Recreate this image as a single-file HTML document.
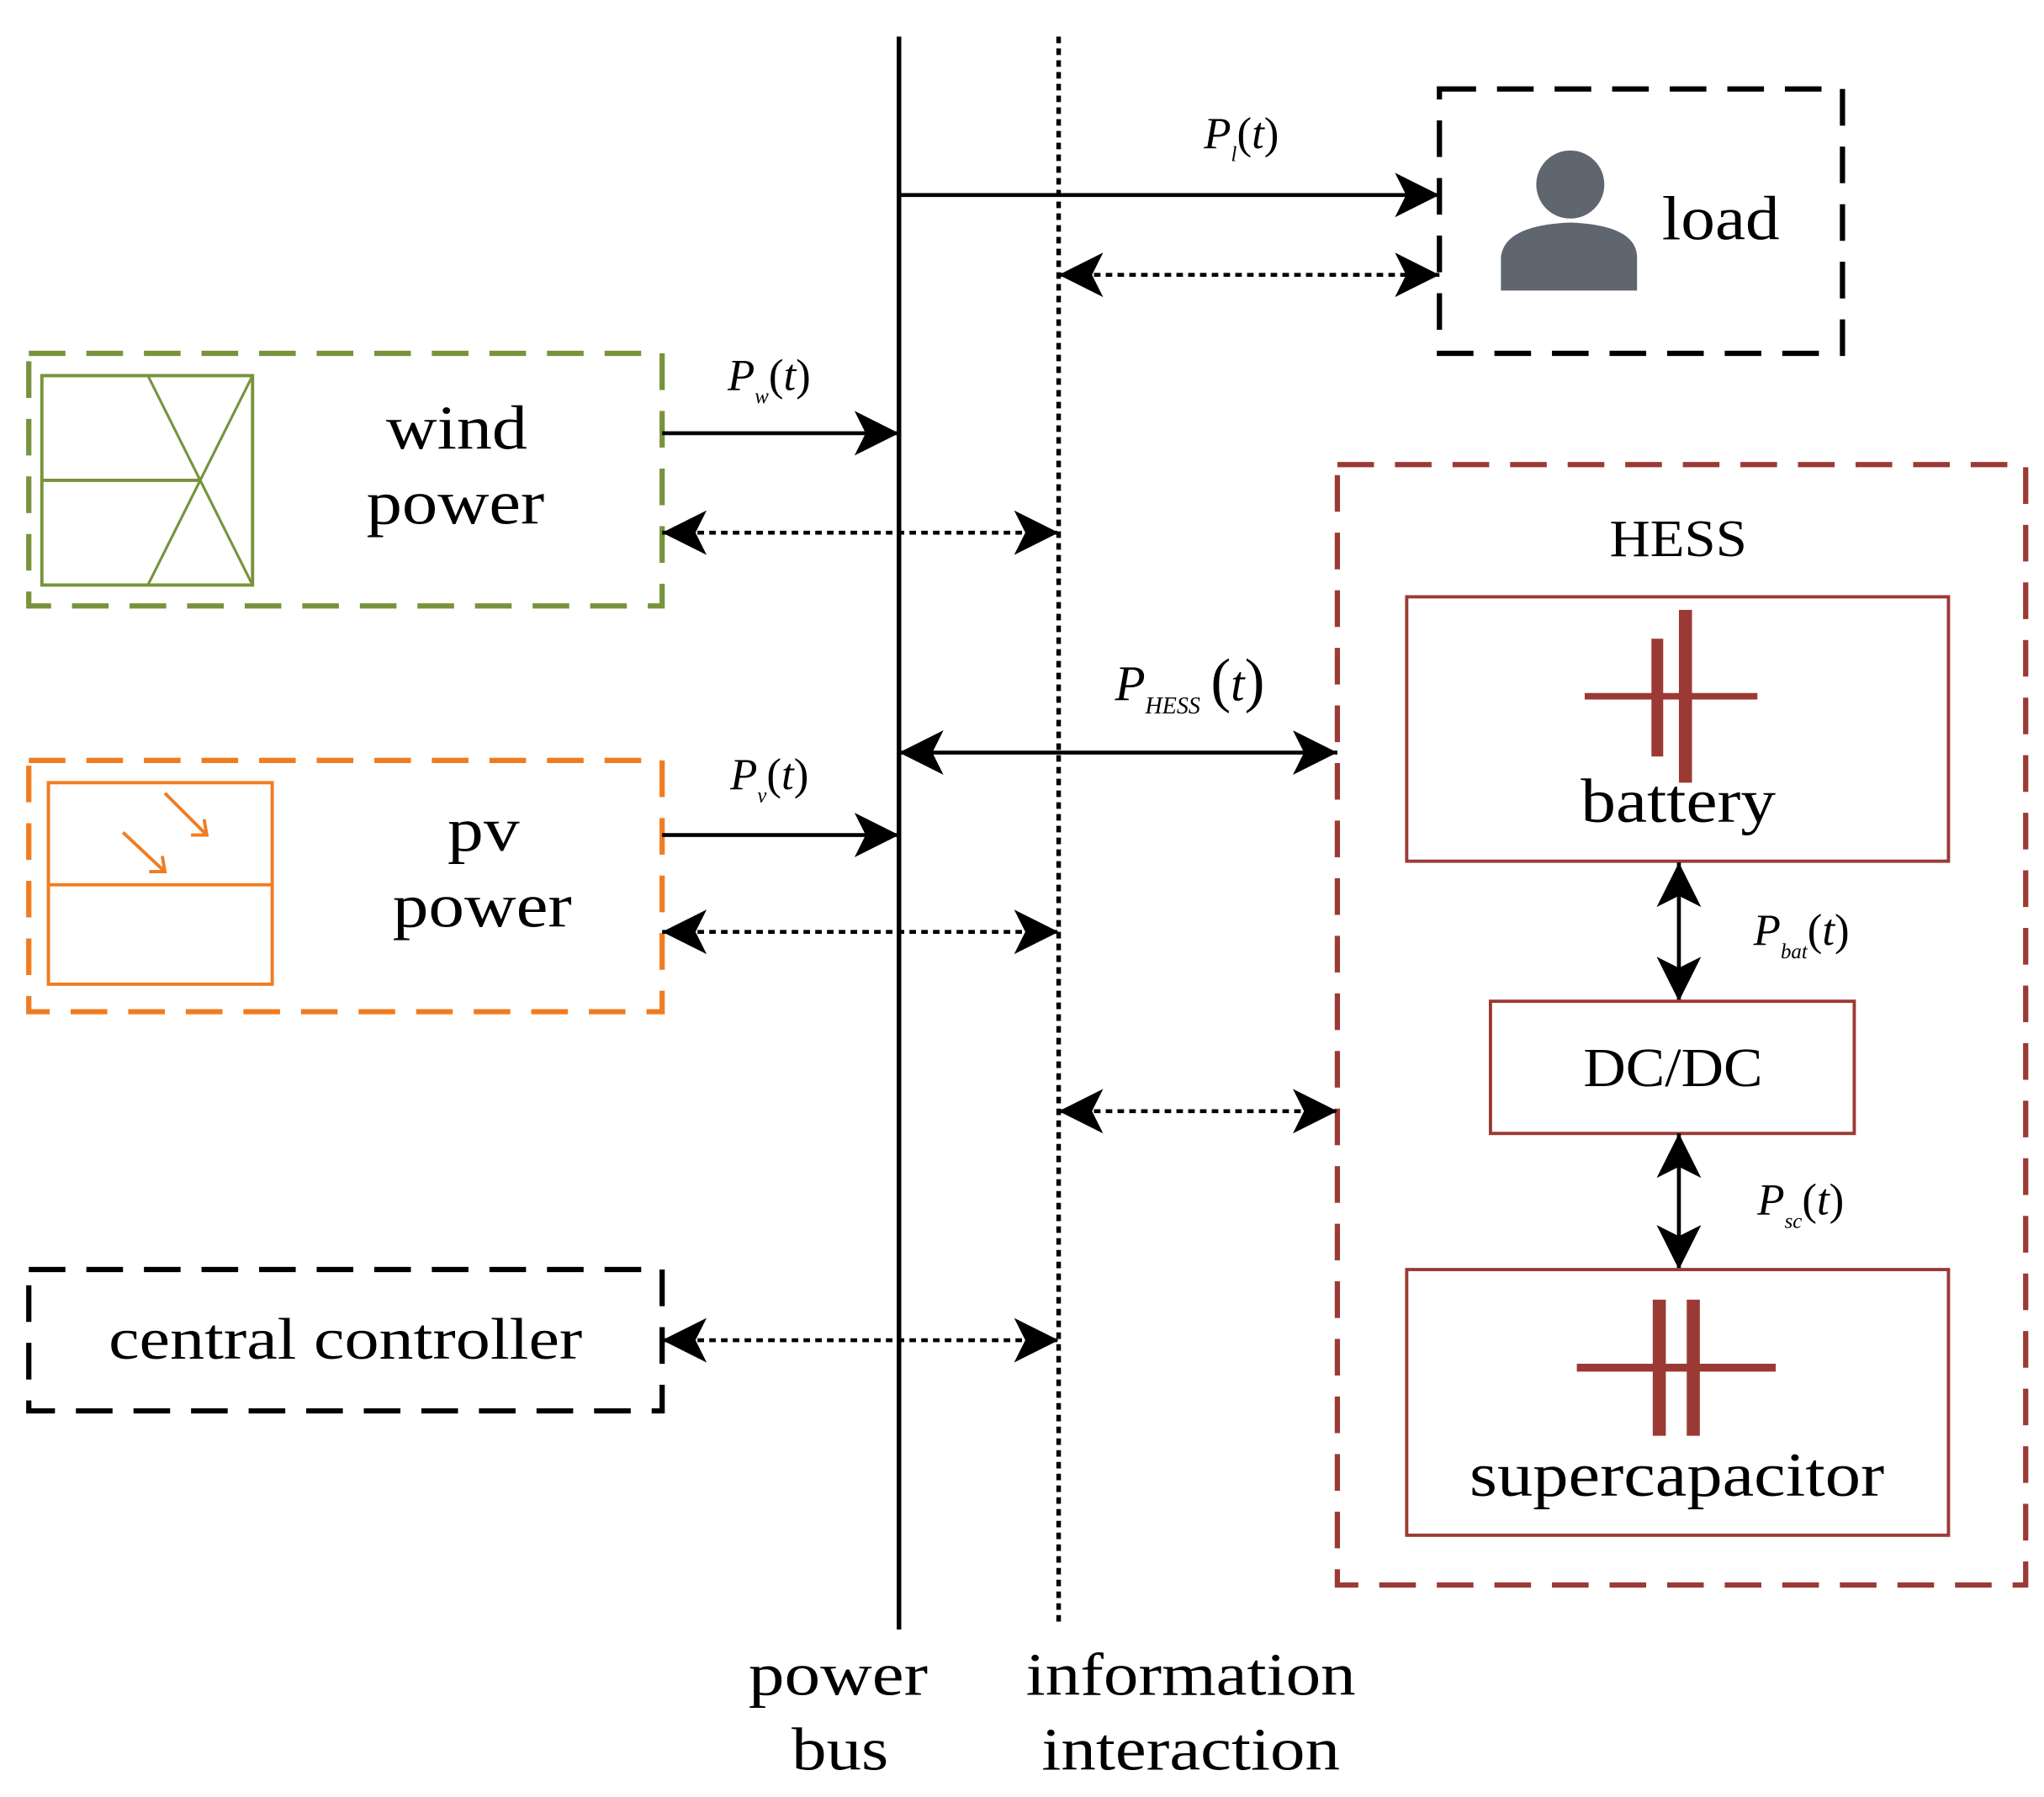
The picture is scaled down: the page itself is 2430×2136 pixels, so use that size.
<!DOCTYPE html>
<html><head><meta charset="utf-8"><style>
html,body{margin:0;padding:0;background:#fff;}
svg{display:block;}
text{font-family:"Liberation Serif",serif;}
</style></head><body>
<svg width="2430" height="2136" viewBox="0 0 1562 1373" preserveAspectRatio="none" xmlns="http://www.w3.org/2000/svg">
<defs>
<marker id="ah2" viewBox="0 0 10 10" refX="10" refY="5" markerWidth="34" markerHeight="34" markerUnits="userSpaceOnUse" orient="auto-start-reverse">
<path d="M0,0 L10,5 L0,10 L2.5,5 Z" fill="#000"/>
</marker>
</defs>
<line x1="687" y1="28" x2="687" y2="1245" stroke="#000" stroke-width="3.5"/>
<line x1="809" y1="28" x2="809" y2="1243" stroke="#000" stroke-width="3.5" stroke-dasharray="5 4"/>

<rect x="1100" y="68" width="308" height="202" fill="none" stroke="#000" stroke-width="4" stroke-dasharray="28 16"/>
<circle cx="1200" cy="141" r="26" fill="#5f6670"/>
<path d="M1147,222 L1147,196 Q1150,172 1200,170 Q1250,172 1251,196 L1251,222 Z" fill="#5f6670"/>
<text x="1270" y="183" font-size="48" textLength="90" lengthAdjust="spacingAndGlyphs">load</text>
<line x1="687" y1="149" x2="1100" y2="149" stroke="#000" stroke-width="3" marker-end="url(#ah2)"/>
<text x="920" y="113" font-size="34" font-style="italic">P<tspan font-size="16" dy="10">l</tspan><tspan font-style="normal" dy="-10">(</tspan>t<tspan font-style="normal">)</tspan></text>
<line x1="809" y1="210" x2="1100" y2="210" stroke="#000" stroke-width="3" stroke-dasharray="5 4" marker-start="url(#ah2)" marker-end="url(#ah2)"/>

<rect x="22" y="270" width="484" height="193" fill="none" stroke="#77933c" stroke-width="4" stroke-dasharray="28 16"/>
<rect x="32" y="287" width="161" height="160" fill="none" stroke="#77933c" stroke-width="2.5"/>
<line x1="32" y1="367" x2="153" y2="367" stroke="#77933c" stroke-width="2.5"/>
<line x1="113" y1="287" x2="193" y2="447" stroke="#77933c" stroke-width="2"/>
<line x1="193" y1="287" x2="113" y2="447" stroke="#77933c" stroke-width="2"/>
<text x="295" y="343" font-size="48" textLength="108" lengthAdjust="spacingAndGlyphs">wind</text>
<text x="280" y="400" font-size="48" textLength="136" lengthAdjust="spacingAndGlyphs">power</text>
<text x="556" y="298" font-size="34" font-style="italic">P<tspan font-size="16" dy="10">w</tspan><tspan font-style="normal" dy="-10">(</tspan>t<tspan font-style="normal">)</tspan></text>
<line x1="506" y1="331" x2="687" y2="331" stroke="#000" stroke-width="3" marker-end="url(#ah2)"/>
<line x1="506" y1="407" x2="809" y2="407" stroke="#000" stroke-width="3" stroke-dasharray="5 4" marker-start="url(#ah2)" marker-end="url(#ah2)"/>

<rect x="22" y="581" width="484" height="192" fill="none" stroke="#f07c21" stroke-width="4" stroke-dasharray="28 16"/>
<rect x="37" y="598" width="171" height="154" fill="none" stroke="#f07c21" stroke-width="2.5"/>
<line x1="37" y1="676" x2="208" y2="676" stroke="#f07c21" stroke-width="2.5"/>
<g stroke="#f07c21" stroke-width="2.5" fill="none">
<line x1="126" y1="606" x2="158" y2="638"/><polyline points="146,638 158,638 156,626"/>
<line x1="94" y1="636" x2="126" y2="666"/><polyline points="114,666 126,666 124,654"/>
</g>
<text x="342" y="650" font-size="48" textLength="55" lengthAdjust="spacingAndGlyphs">pv</text>
<text x="300" y="708" font-size="48" textLength="137" lengthAdjust="spacingAndGlyphs">power</text>
<text x="558" y="603" font-size="34" font-style="italic">P<tspan font-size="16" dy="10">v</tspan><tspan font-style="normal" dy="-10">(</tspan>t<tspan font-style="normal">)</tspan></text>
<line x1="506" y1="638" x2="687" y2="638" stroke="#000" stroke-width="3" marker-end="url(#ah2)"/>
<line x1="506" y1="712" x2="809" y2="712" stroke="#000" stroke-width="3" stroke-dasharray="5 4" marker-start="url(#ah2)" marker-end="url(#ah2)"/>

<rect x="1022" y="355" width="526" height="856" fill="none" stroke="#9b3a34" stroke-width="4" stroke-dasharray="28 16"/>
<text x="1230" y="425" font-size="40" textLength="105" lengthAdjust="spacingAndGlyphs">HESS</text>
<text x="852" y="535" font-size="38" font-style="italic">P<tspan font-size="18" dy="10">HESS</tspan><tspan font-style="normal" font-size="46" dy="-10" dx="8">(</tspan>t<tspan font-style="normal" font-size="46">)</tspan></text>
<line x1="687" y1="575" x2="1022" y2="575" stroke="#000" stroke-width="3" marker-start="url(#ah2)" marker-end="url(#ah2)"/>
<line x1="809" y1="849" x2="1022" y2="849" stroke="#000" stroke-width="3" stroke-dasharray="5 4" marker-start="url(#ah2)" marker-end="url(#ah2)"/>

<rect x="1075" y="456" width="414" height="202" fill="none" stroke="#9b3a34" stroke-width="2.5"/>
<line x1="1211" y1="532" x2="1343" y2="532" stroke="#9b3a34" stroke-width="5"/>
<rect x="1262" y="488" width="9" height="90" fill="#9b3a34"/>
<rect x="1283" y="466" width="10" height="132" fill="#9b3a34"/>
<text x="1208" y="628" font-size="48" textLength="149" lengthAdjust="spacingAndGlyphs">battery</text>

<line x1="1283" y1="659" x2="1283" y2="765" stroke="#000" stroke-width="3" marker-start="url(#ah2)" marker-end="url(#ah2)"/>
<text x="1340" y="722" font-size="34" font-style="italic">P<tspan font-size="16" dy="10">bat</tspan><tspan font-style="normal" dy="-10">(</tspan>t<tspan font-style="normal">)</tspan></text>

<rect x="1139" y="765" width="278" height="101" fill="none" stroke="#9b3a34" stroke-width="2.5"/>
<text x="1210" y="830" font-size="42" textLength="137" lengthAdjust="spacingAndGlyphs">DC/DC</text>

<line x1="1283" y1="866" x2="1283" y2="970" stroke="#000" stroke-width="3" marker-start="url(#ah2)" marker-end="url(#ah2)"/>
<text x="1343" y="928" font-size="34" font-style="italic">P<tspan font-size="16" dy="10">sc</tspan><tspan font-style="normal" dy="-10">(</tspan>t<tspan font-style="normal">)</tspan></text>

<rect x="1075" y="970" width="414" height="203" fill="none" stroke="#9b3a34" stroke-width="2.5"/>
<line x1="1205" y1="1045" x2="1357" y2="1045" stroke="#9b3a34" stroke-width="6"/>
<rect x="1263" y="993" width="10" height="104" fill="#9b3a34"/>
<rect x="1289" y="993" width="10" height="104" fill="#9b3a34"/>
<text x="1123" y="1143" font-size="48" textLength="317" lengthAdjust="spacingAndGlyphs">supercapacitor</text>

<rect x="22" y="970" width="484" height="108" fill="none" stroke="#000" stroke-width="4" stroke-dasharray="28 16"/>
<text x="83" y="1038" font-size="45" textLength="362" lengthAdjust="spacingAndGlyphs">central controller</text>
<line x1="506" y1="1024" x2="809" y2="1024" stroke="#000" stroke-width="3" stroke-dasharray="5 4" marker-start="url(#ah2)" marker-end="url(#ah2)"/>

<text x="572" y="1295" font-size="46" textLength="137" lengthAdjust="spacingAndGlyphs">power</text>
<text x="605" y="1352" font-size="46" textLength="74" lengthAdjust="spacingAndGlyphs">bus</text>
<text x="784" y="1295" font-size="46" textLength="252" lengthAdjust="spacingAndGlyphs">information</text>
<text x="796" y="1352" font-size="46" textLength="228" lengthAdjust="spacingAndGlyphs">interaction</text>
</svg>
</body></html>
